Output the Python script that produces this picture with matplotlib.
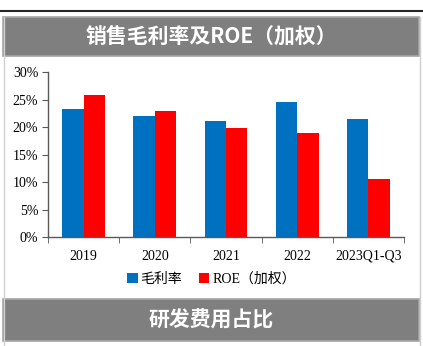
import matplotlib.pyplot as plt
import numpy as np
from matplotlib.patches import Rectangle
from matplotlib.lines import Line2D
from matplotlib.ticker import FuncFormatter

years = ["2019", "2020", "2021", "2022", "2023Q1-Q3"]
gross_margin = [23.4, 22.0, 21.1, 24.6, 21.5]
roe_weighted = [25.8, 23.0, 19.8, 18.9, 10.5]
series_names = ["毛利率", "ROE（加权）"]
title_top = "销售毛利率及ROE（加权）"
title_bottom = "研发费用占比"

latin_cjk = ["Liberation Serif", "Noto Sans CJK SC"]
plt.rcParams["font.family"] = latin_cjk

fig = plt.figure(figsize=(4.23, 3.46), dpi=100)
W, H = 423.0, 346.0

def px(x0, y0, x1, y1):
    # pixel box (top-left origin) -> figure rect
    return (x0 / W, 1 - y1 / H, (x1 - x0) / W, (y1 - y0) / H)

# dark rule along the top
fig.add_artist(Line2D([0, 1], [1 - 10.5 / H] * 2, color="#262626", lw=1.5,
                      transform=fig.transFigure))

# panel side borders
for xx in (3.5, 419.5):
    fig.add_artist(Line2D([xx / W] * 2, [0, 1 - 17 / H], color="#d0d0d0", lw=1,
                          transform=fig.transFigure))

# gray title banners
for (y0, y1, txt) in [(17, 56, title_top), (299, 341, title_bottom)]:
    r = px(3, y0, 419, y1)
    fig.add_artist(Rectangle(r[:2], r[2], r[3], transform=fig.transFigure,
                             facecolor="#7f7f7f", edgecolor="#a6a6a6", lw=1.2))
    fig.text(0.5, 1 - (y0 + y1) / 2 / H, txt, color="white", fontsize=15,
             fontweight="bold", ha="center", va="center",
             family=["Noto Sans CJK SC", "DejaVu Sans"])

ax = fig.add_axes(px(48, 72.3, 404, 237))
x = np.arange(len(years))
w = 0.3
ax.bar(x - w / 2, np.array(gross_margin) / 100, width=w, color="#0070c0",
       label=series_names[0])
ax.bar(x + w / 2, np.array(roe_weighted) / 100, width=w, color="#ff0000",
       label=series_names[1])

ax.set_xlim(-0.5, len(years) - 0.5)
ax.set_ylim(0, 0.30)
ax.set_yticks(np.arange(0, 0.301, 0.05))
ax.yaxis.set_major_formatter(FuncFormatter(lambda v, pos: "%d%%" % round(v * 100)))

# category labels centred, ticks on the boundaries
ax.set_xticks(x)
ax.set_xticklabels(years)
ax.set_xticks(np.arange(-0.5, len(years)), minor=True)
ax.tick_params(axis="x", which="major", length=0, pad=9, labelsize=10)
ax.tick_params(axis="x", which="minor", length=4, direction="out", color="#595959")
ax.tick_params(axis="y", length=4, direction="out", color="#595959", labelsize=10, pad=3)

for s in ("top", "right"):
    ax.spines[s].set_visible(False)
for s in ("left", "bottom"):
    ax.spines[s].set_color("#595959")
    ax.spines[s].set_linewidth(1)

fig.legend(loc="center", bbox_to_anchor=(0.5, 1 - 279 / H), ncol=2, frameon=False,
           fontsize=10, handlelength=0.75, handleheight=0.75, handletextpad=0.2,
           columnspacing=1.2)

fig.savefig("out.png", dpi=100)
